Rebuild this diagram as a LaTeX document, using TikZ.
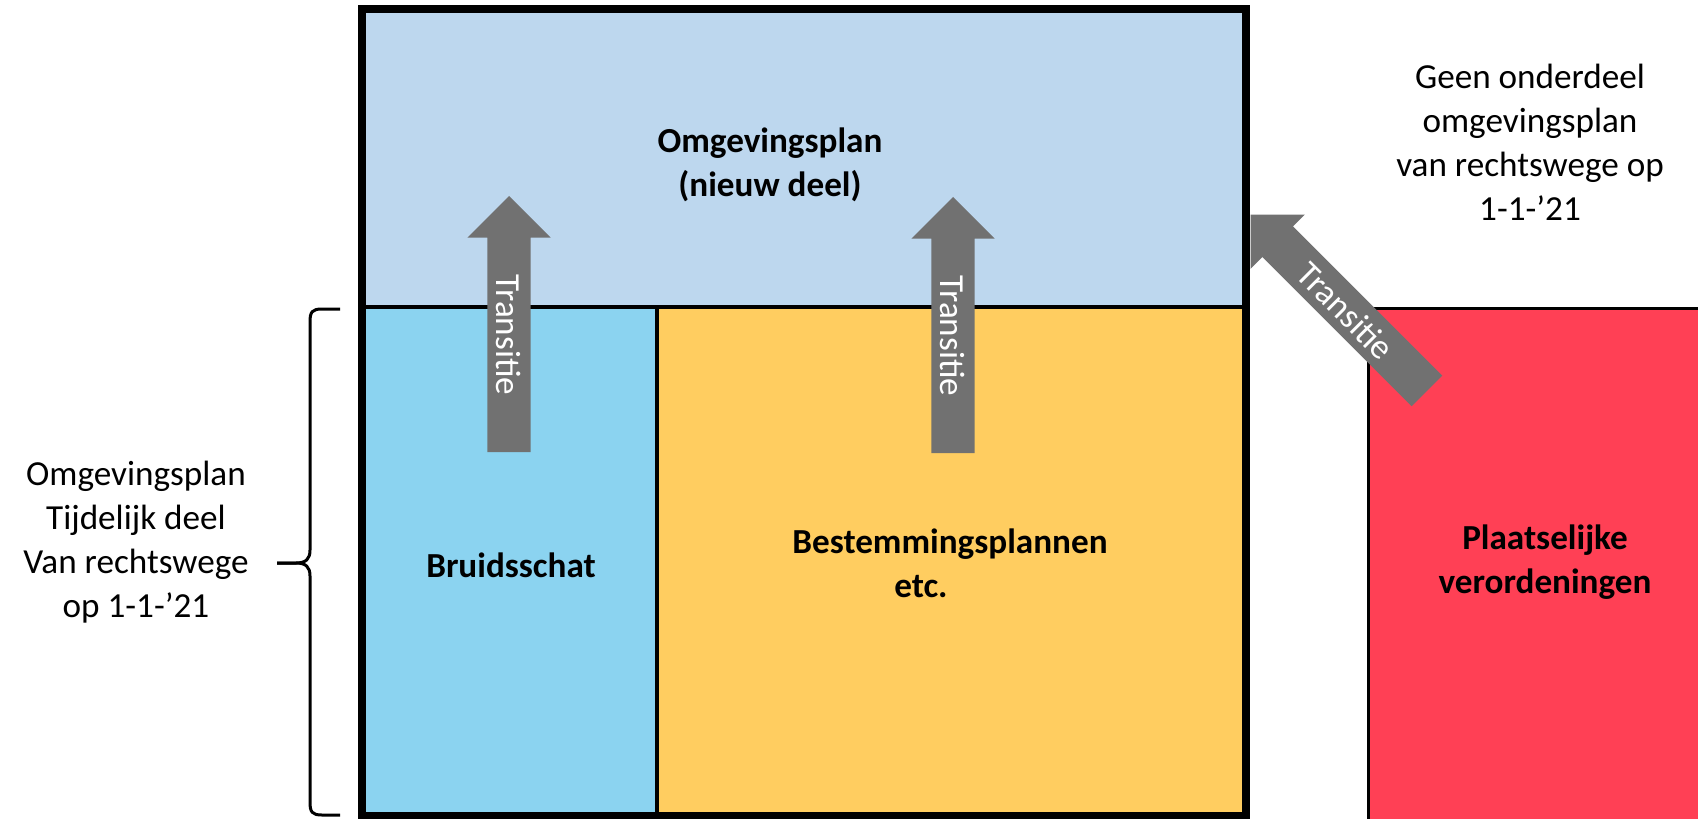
\documentclass[tikz,border=0pt]{standalone}
\usepackage{fontspec}
\setmainfont{Carlito}
\usetikzlibrary{shapes.arrows}

\definecolor{planblue}{HTML}{BDD7EE}
\definecolor{schatblue}{HTML}{8BD3F0}
\definecolor{bpyellow}{HTML}{FFCD60}
\definecolor{verred}{HTML}{FF4055}
\definecolor{arrowgray}{HTML}{717171}

\begin{document}
\begin{tikzpicture}[x=0.01cm, y=-0.01cm,
    font=\fontsize{10}{12.5}\selectfont,
    sidetext/.style={align=center, inner sep=0pt},
    boxtext/.style={align=center, inner sep=0pt, font=\fontsize{10}{12.5}\selectfont\bfseries},
    transitie/.style={single arrow, fill=arrowgray, text=white, shape border rotate=180,
        single arrow head extend=0.2cm, inner xsep=2pt, inner ysep=0pt,
        text height=0.34cm, text depth=0.08cm, minimum height=2.56cm, anchor=tip}]
    \useasboundingbox (0,0) rectangle (1698,818);

    % Coloured parts of the plan
    \fill[planblue] (362,9) rectangle (1246,307);
    \fill[schatblue] (362,307) rectangle (657,818);
    \fill[bpyellow] (657,307) rectangle (1246,818);
    \draw[line width=0.04cm] (362,307) -- (1246,307);
    \draw[line width=0.04cm] (657,307) -- (657,818);
    \draw[fill=verred, line width=0.03cm] (1368,308) rectangle (1720,840);

    % Outer frame
    \draw[line width=0.08cm] (362,9) rectangle (1246,816);

    % Texts in the boxes
    \node[boxtext] (nieuw) at (770,165) {Omgevingsplan\\(nieuw deel)};
    \node[boxtext] (bruid) at (511,565) {Bruidsschat};
    \node[boxtext] (bp) at (950,563) {Bestemmingsplannen\\etc.\hspace*{0.58cm}};
    \node[boxtext] (verord) at (1545,562) {Plaatselijke\\verordeningen};

    % Texts beside the plan
    \node[sidetext] (tijdelijk) at (136,542) {Omgevingsplan\\Tijdelijk deel\\Van rechtswege\\op 1-1-’21};
    \node[sidetext] (geen) at (1530,142) {Geen onderdeel\\omgevingsplan\\van rechtswege op\\1-1-’21};

    % Brace
    \coordinate (brtip) at (277,563);
    \draw[line width=0.03cm] (340,309) -- (322,309) .. controls (312,309) and (310,312) .. (310,322)
        -- (310,550) .. controls (310,559) and (306,563) .. (296,563) -- (brtip);
    \draw[line width=0.03cm] (340,815) -- (322,815) .. controls (312,815) and (310,812) .. (310,802)
        -- (310,576) .. controls (310,567) and (306,563) .. (296,563) -- (brtip);

    % Transition arrows
    \node[transitie, rotate=-90] (tr1) at (509,195) {Transitie};
    \node[transitie, rotate=-90] (tr2) at (953,196) {Transitie};
    \node[transitie, rotate=-45, minimum height=2.49cm, single arrow head extend=0.165cm] (tr3) at (1250,214) {Transitie};
\end{tikzpicture}
\end{document}
